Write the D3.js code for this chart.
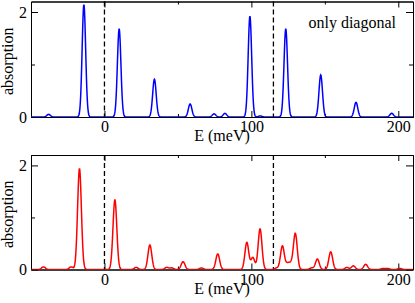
<!DOCTYPE html>
<html><head><meta charset="utf-8">
<script src="https://cdn.jsdelivr.net/npm/d3@7"></script>
<style>
body{margin:0;background:#fff;}
svg{display:block;}
svg text{font-family:"Liberation Serif","Times New Roman",Times,"DejaVu Serif","Noto Serif",serif !important;}
</style></head>
<body>
<svg id="c" width="415" height="303"></svg>
<script>
// Peak positions (meV) and heights
const diagE = [-38, -14, 10, 34, 58.3, 74.6, 82, 99, 106, 123.4, 147.2, 171.2, 195.5];
const diagH = [0.05, 2.14, 1.68, 0.72, 0.25, 0.06, 0.07, 1.92, 0.02, 1.68, 0.80, 0.28, 0.07];
const fullE = [-41.5, -22.7, -17, 7.1, 21.6, 30.9, 42.4, 45.8, 53.5, 66, 77.1, 96.9, 101, 105.9, 117.3, 121.1, 124.5, 126.8, 129.9, 141, 144.9, 154, 165, 169.4, 177.8, 189.6, 192.7, 201];
const fullH = [0.05, 0.05, 1.94, 1.34, 0.04, 0.47, 0.04, 0.03, 0.15, 0.03, 0.30, 0.52, 0.23, 0.78, 0.03, 0.45, 0.10, 0.10, 0.69, 0.03, 0.20, 0.34, 0.04, 0.07, 0.10, 0.02, 0.02, 0.02];
const xTicks = [0, 100, 200];
const xMinor = [50, 150];
const yTicks = [0, 2];
const yMinor = [1];
const dashedE = [0, 115];
const xDomain = [-50, 210];
const yDomain = [0, 2.2];
const sigmaDiag = 1.2, sigmaFull = 1.3;

const svg = d3.select("#c");
const left = 31, right = 413;
const x = d3.scaleLinear().domain(xDomain).range([left, right]);

function spectrum(E, H, s) {
  const pts = [];
  for (let e = xDomain[0]; e <= xDomain[1]; e += 0.2) {
    let v = 0;
    for (let i = 0; i < E.length; i++) v += H[i] * Math.exp(-0.5 * ((e - E[i]) / s) ** 2);
    pts.push([e, v]);
  }
  return pts;
}

function panel(top, bottom, E, H, s, color, id, note) {
  const y = d3.scaleLinear().domain(yDomain).range([bottom, top]);
  const g = svg.append("g");
  g.append("clipPath").attr("id", id).append("rect")
    .attr("x", left).attr("y", top).attr("width", right - left).attr("height", bottom - top);

  g.selectAll("line.d").data(dashedE).enter().append("line")
    .attr("x1", d => x(d)).attr("x2", d => x(d)).attr("y1", top).attr("y2", bottom)
    .attr("stroke", "#000").attr("stroke-width", 1.3).attr("stroke-dasharray", "5,3");

  const line = d3.line().x(d => x(d[0])).y(d => y(d[1]));

  const ax = (axis, tr) => {
    const a = g.append("g").attr("transform", tr).call(axis);
    a.attr("font-family", null);
    a.select(".domain").attr("stroke", "#000");
    a.selectAll(".tick line").attr("stroke", "#000");
    a.selectAll("text").style("font-size", "16px").attr("fill", "#000");
    return a;
  };
  ax(d3.axisBottom(x).tickValues(xTicks).tickSizeInner(-6).tickSizeOuter(0).tickPadding(4).tickFormat(d3.format("d")),
     `translate(0,${bottom})`);
  ax(d3.axisBottom(x).tickValues(xMinor).tickSizeInner(-3).tickSizeOuter(0).tickFormat(""), `translate(0,${bottom})`);
  ax(d3.axisTop(x).tickValues(xTicks).tickSizeInner(-6).tickSizeOuter(0).tickFormat(""), `translate(0,${top})`);
  ax(d3.axisTop(x).tickValues(xMinor).tickSizeInner(-3).tickSizeOuter(0).tickFormat(""), `translate(0,${top})`);
  ax(d3.axisLeft(y).tickValues(yTicks).tickSizeInner(-7).tickSizeOuter(0).tickPadding(4).tickFormat(d3.format("d")),
     `translate(${left},0)`);
  ax(d3.axisLeft(y).tickValues(yMinor).tickSizeInner(-4).tickSizeOuter(0).tickFormat(""), `translate(${left},0)`);
  ax(d3.axisRight(y).tickValues(yTicks).tickSizeInner(-7).tickSizeOuter(0).tickFormat(""), `translate(${right},0)`);
  ax(d3.axisRight(y).tickValues(yMinor).tickSizeInner(-4).tickSizeOuter(0).tickFormat(""), `translate(${right},0)`);

  g.append("path").datum(spectrum(E, H, s)).attr("d", line)
    .attr("fill", "none").attr("stroke", color).attr("stroke-width", 1.5)
    .attr("clip-path", `url(#${id})`);

  g.append("text").attr("x", (left + right) / 2).attr("y", bottom + 24)
    .attr("text-anchor", "middle").style("font-size", "16px").text("E (meV)");
  g.append("text").attr("transform", `translate(13,${(top + bottom) / 2 + 2}) rotate(-90)`)
    .attr("text-anchor", "middle").style("font-size", "16px").text("absorption");
  if (note) {
    g.append("text").attr("x", 396).attr("y", top + 26).attr("text-anchor", "end")
      .style("font-size", "16px").text(note);
  }
}

panel(1.5, 117, diagE, diagH, sigmaDiag, "#0000ff", "c1", "only diagonal");
panel(155, 269.5, fullE, fullH, sigmaFull, "#ff0000", "c2", null);
</script>
</body></html>
